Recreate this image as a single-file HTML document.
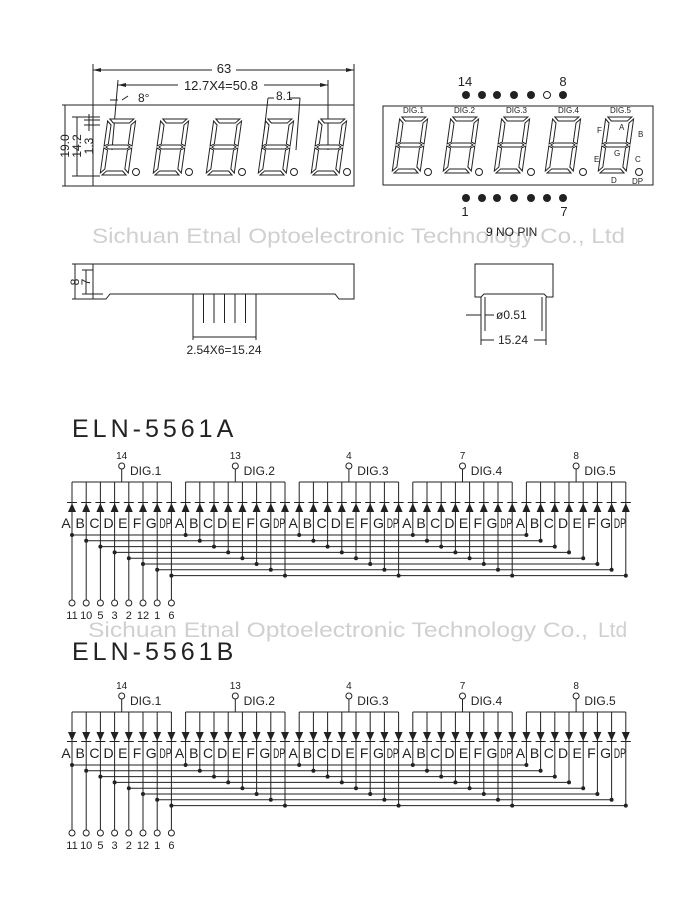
<!DOCTYPE html>
<html><head><meta charset="utf-8"><style>
html,body{margin:0;padding:0;background:#fff}
svg{display:block}
text{font-family:"Liberation Sans",sans-serif;fill:#222}
</style></head><body>
<svg width="700" height="900" viewBox="0 0 700 900" xmlns="http://www.w3.org/2000/svg">
<defs>
<g id="dig" fill="#fff" stroke="#222" stroke-width="1">
<polygon points="2,0 26,0 22,4 6,4"/>
<polygon points="0,2 4,6 4,25 0,27"/>
<polygon points="28,2 28,27 24,25 24,6"/>
<polygon points="2,28 5,26 23,26 26,28 23,30 5,30"/>
<polygon points="0,29 4,31 4,50 0,54"/>
<polygon points="28,29 28,54 24,50 24,31"/>
<polygon points="6,52 22,52 26,56 2,56"/>
</g>
<g id="dU"><polygon points="-4,512 4,512 0,503" fill="#222"/><line x1="-5" y1="502.5" x2="5" y2="502.5" stroke="#222"/></g>
<g id="dD"><polygon points="-4,502 4,502 0,511" fill="#222"/><line x1="-5" y1="511.5" x2="5" y2="511.5" stroke="#222"/></g>
<g id="rowU"><use href="#dU" x="0"/><use href="#dU" x="14.2"/><use href="#dU" x="28.4"/><use href="#dU" x="42.6"/><use href="#dU" x="56.8"/><use href="#dU" x="71"/><use href="#dU" x="85.2"/><use href="#dU" x="99.4"/></g>
<g id="rowD"><use href="#dD" x="0"/><use href="#dD" x="14.2"/><use href="#dD" x="28.4"/><use href="#dD" x="42.6"/><use href="#dD" x="56.8"/><use href="#dD" x="71"/><use href="#dD" x="85.2"/><use href="#dD" x="99.4"/></g>
<g id="dg">
<path d="M0 482H99.4M49.7 469V482M0 482V535M14.2 482V540.8M28.4 482V546.6M42.6 482V552.4M56.8 482V558.2M71 482V564M85.2 482V569.8M99.4 482V575.6" stroke="#222" fill="none"/>
<circle cx="49.7" cy="466" r="3" fill="#fff" stroke="#222"/>
<g fill="#222"><circle cx="0" cy="535" r="2"/><circle cx="14.2" cy="540.8" r="2"/><circle cx="28.4" cy="546.6" r="2"/><circle cx="42.6" cy="552.4" r="2"/><circle cx="56.8" cy="558.2" r="2"/><circle cx="71" cy="564" r="2"/><circle cx="85.2" cy="569.8" r="2"/><circle cx="99.4" cy="575.6" r="2"/></g>
</g>
<g id="dg1">
<path d="M0 482H99.4M49.7 469V482M0 482V600M14.2 482V600M28.4 482V600M42.6 482V600M56.8 482V600M71 482V600M85.2 482V600M99.4 482V600" stroke="#222" fill="none"/>
<circle cx="49.7" cy="466" r="3" fill="#fff" stroke="#222"/>
<g fill="#222"><circle cx="0" cy="535" r="2"/><circle cx="14.2" cy="540.8" r="2"/><circle cx="28.4" cy="546.6" r="2"/><circle cx="42.6" cy="552.4" r="2"/><circle cx="56.8" cy="558.2" r="2"/><circle cx="71" cy="564" r="2"/><circle cx="85.2" cy="569.8" r="2"/><circle cx="99.4" cy="575.6" r="2"/></g>
<g fill="#fff" stroke="#222"><circle cx="0" cy="603" r="3"/><circle cx="14.2" cy="603" r="3"/><circle cx="28.4" cy="603" r="3"/><circle cx="42.6" cy="603" r="3"/><circle cx="56.8" cy="603" r="3"/><circle cx="71" cy="603" r="3"/><circle cx="85.2" cy="603" r="3"/><circle cx="99.4" cy="603" r="3"/></g>
</g>
<path id="buses" d="M72 535H526.4M86.2 540.8H540.6M100.4 546.6H554.8M114.6 552.4H569M128.8 558.2H583.2M143 564H597.4M157.2 569.8H611.6M171.4 575.6H625.8" stroke="#222" fill="none"/>
</defs>

<text x="92" y="243" font-size="21" textLength="533" lengthAdjust="spacingAndGlyphs" style="fill:#d0d0d0">Sichuan Etnal Optoelectronic Technology Co., Ltd</text>
<text x="88" y="637" font-size="21" textLength="500" lengthAdjust="spacingAndGlyphs" style="fill:#d0d0d0">Sichuan Etnal Optoelectronic Technology Co.,</text>
<text x="598" y="637" font-size="21" style="fill:#d0d0d0">Ltd</text>

<g stroke="#222" fill="none" stroke-width="1">
<rect x="93" y="105" width="261" height="81"/>
<path d="M93 64V105M354 64V105M93 70H354M118 80L112 150M328 80V150M118 85H328"/>
<path d="M62 105H93M62 186H93M72 117H100M72 176H100M84 120H100M84 125H100"/>
<path d="M65 105V186M77 117V176M89 114V131"/>
<path d="M110 100H118M128 96L122 100M268 98L262 150M300 98L296 150M268 98H300"/>
</g>
<g fill="#222"><polygon points="93,70 101,68 101,72"/><polygon points="354,70 346,68 346,72"/><polygon points="118,85 126,83 126,87"/><polygon points="328,85 320,83 320,87"/></g>
<rect x="212" y="62" width="24" height="12" fill="#fff"/><text x="224" y="73" font-size="13" text-anchor="middle">63</text>
<rect x="178" y="78" width="86" height="13" fill="#fff"/><text x="221" y="90" font-size="13" text-anchor="middle">12.7X4=50.8</text>
<text x="138" y="102" font-size="12">8°</text>
<rect x="274" y="89" width="16" height="12" fill="#fff"/><text x="276" y="100" font-size="12">8.1</text>
<g font-size="12"><text transform="translate(69,146) rotate(-90)" text-anchor="middle">19.0</text><text transform="translate(81,146) rotate(-90)" text-anchor="middle">14.2</text><text transform="translate(93,146) rotate(-90)" text-anchor="middle">1.3</text></g>
<use href="#dig" transform="translate(100,175) skewX(-8) translate(0,-56)"/>
<use href="#dig" transform="translate(153,175) skewX(-8) translate(0,-56)"/>
<use href="#dig" transform="translate(206,175) skewX(-8) translate(0,-56)"/>
<use href="#dig" transform="translate(258,175) skewX(-8) translate(0,-56)"/>
<use href="#dig" transform="translate(311,175) skewX(-8) translate(0,-56)"/>
<g fill="#fff" stroke="#222"><circle cx="136" cy="172" r="3.5"/><circle cx="189" cy="172" r="3.5"/><circle cx="242" cy="172" r="3.5"/><circle cx="294" cy="172" r="3.5"/><circle cx="347" cy="172" r="3.5"/></g>

<rect x="383" y="106" width="270" height="79" fill="none" stroke="#222"/>
<use href="#dig" transform="translate(392,173) skewX(-8) translate(0,-56)"/>
<use href="#dig" transform="translate(443,173) skewX(-8) translate(0,-56)"/>
<use href="#dig" transform="translate(494,173) skewX(-8) translate(0,-56)"/>
<use href="#dig" transform="translate(545,173) skewX(-8) translate(0,-56)"/>
<use href="#dig" transform="translate(598,173) skewX(-8) translate(0,-56)"/>
<g fill="#fff" stroke="#222"><circle cx="428" cy="172" r="3.5"/><circle cx="479" cy="172" r="3.5"/><circle cx="531" cy="172" r="3.5"/><circle cx="583" cy="172" r="3.5"/><circle cx="639" cy="172" r="3.5"/></g>
<g font-size="8"><text x="403" y="113">DIG.1</text><text x="454" y="113">DIG.2</text><text x="506" y="113">DIG.3</text><text x="558" y="113">DIG.4</text><text x="610" y="113">DIG.5</text>
<text x="597" y="133">F</text><text x="619" y="130">A</text><text x="638" y="137">B</text><text x="614" y="156">G</text><text x="594" y="162">E</text><text x="635" y="162">C</text><text x="611" y="183">D</text><text x="632" y="184">DP</text></g>
<g fill="#222"><circle cx="466" cy="95" r="4"/><circle cx="482" cy="95" r="4"/><circle cx="497" cy="95" r="4"/><circle cx="514" cy="95" r="4"/><circle cx="531" cy="95" r="4"/><circle cx="563" cy="95" r="4"/>
<circle cx="466" cy="198" r="4"/><circle cx="482" cy="198" r="4"/><circle cx="497" cy="198" r="4"/><circle cx="514" cy="198" r="4"/><circle cx="531" cy="198" r="4"/><circle cx="547" cy="198" r="4"/><circle cx="563" cy="198" r="4"/></g>
<circle cx="547" cy="95" r="3.5" fill="#fff" stroke="#222"/>
<g font-size="13"><text x="465" y="86" text-anchor="middle">14</text><text x="563" y="86" text-anchor="middle">8</text><text x="465" y="216" text-anchor="middle">1</text><text x="564" y="216" text-anchor="middle">7</text></g>
<text x="486" y="236" font-size="12">9 NO PIN</text>

<g stroke="#222" fill="none">
<path d="M93 264H354V299H339L335 294H110L106 299H93Z"/>
<path d="M72 264H93M72 299H93M82 270H93M82 294H103M75 264V299M86 270V294"/>
<path d="M193 294V323M203.5 294V323M214 294V323M224.5 294V323M235 294V323M245.5 294V323M256 294V323"/>
<path d="M193 323V340M256 323V340M193 337H256"/>
<path d="M475 264H553V297H547L544 294H484L481 297H475Z"/>
<path d="M481 297V331M485 297V331M542 297V331M546 297V331M481 331V345M546 331V345M481 340H546M466 315H481M485 315H494"/>
</g>
<g font-size="12"><text transform="translate(79,282) rotate(-90)" text-anchor="middle">8</text><text transform="translate(90,282) rotate(-90)" text-anchor="middle">7</text></g>
<text x="224" y="354" font-size="12" text-anchor="middle">2.54X6=15.24</text>
<text x="496" y="319" font-size="12">ø0.51</text>
<rect x="494" y="333" width="40" height="13" fill="#fff"/><text x="513" y="344" font-size="12" text-anchor="middle">15.24</text>

<text x="72" y="437" font-size="25" letter-spacing="4">ELN-5561A</text>
<g>
<use href="#buses"/>
<use href="#dg1" x="72"/>
<use href="#dg" x="185.6"/><use href="#dg" x="299.2"/><use href="#dg" x="412.8"/><use href="#dg" x="526.4"/>
<g font-size="14">
<text x="66 80.2 94.4 108.6 122.8 137 151.2" y="528" text-anchor="middle">ABCDEFG</text>
<text x="179.6 193.8 208 222.2 236.4 250.6 264.8" y="528" text-anchor="middle">ABCDEFG</text>
<text x="293.2 307.4 321.6 335.8 350 364.2 378.4" y="528" text-anchor="middle">ABCDEFG</text>
<text x="406.8 421 435.2 449.4 463.6 477.8 492" y="528" text-anchor="middle">ABCDEFG</text>
<text x="520.4 534.6 548.8 563 577.2 591.4 605.6" y="528" text-anchor="middle">ABCDEFG</text>
<text x="159.5" y="528" textLength="12" lengthAdjust="spacingAndGlyphs">DP</text>
<text x="273.1" y="528" textLength="12" lengthAdjust="spacingAndGlyphs">DP</text>
<text x="386.7" y="528" textLength="12" lengthAdjust="spacingAndGlyphs">DP</text>
<text x="500.3" y="528" textLength="12" lengthAdjust="spacingAndGlyphs">DP</text>
<text x="613.9" y="528" textLength="12" lengthAdjust="spacingAndGlyphs">DP</text>
</g>
<g font-size="12"><text x="130" y="475">DIG.1</text><text x="243.6" y="475">DIG.2</text><text x="357.2" y="475">DIG.3</text><text x="470.8" y="475">DIG.4</text><text x="584.4" y="475">DIG.5</text></g>
<g font-size="10" text-anchor="middle"><text x="121.7" y="459">14</text><text x="235.3" y="459">13</text><text x="348.9" y="459">4</text><text x="462.5" y="459">7</text><text x="576.1" y="459">8</text></g>
<g font-size="11" text-anchor="middle"><text x="72" y="619">11</text><text x="86.2" y="619">10</text><text x="100.4" y="619">5</text><text x="114.6" y="619">3</text><text x="128.8" y="619">2</text><text x="143" y="619">12</text><text x="157.2" y="619">1</text><text x="171.4" y="619">6</text></g>
</g>
<use href="#rowU" x="72"/><use href="#rowU" x="185.6"/><use href="#rowU" x="299.2"/><use href="#rowU" x="412.8"/><use href="#rowU" x="526.4"/>

<text x="72" y="660" font-size="25" letter-spacing="4">ELN-5561B</text>
<g transform="translate(0,230)">
<use href="#buses"/>
<use href="#dg1" x="72"/>
<use href="#dg" x="185.6"/><use href="#dg" x="299.2"/><use href="#dg" x="412.8"/><use href="#dg" x="526.4"/>
<use href="#rowD" x="72"/><use href="#rowD" x="185.6"/><use href="#rowD" x="299.2"/><use href="#rowD" x="412.8"/><use href="#rowD" x="526.4"/>
<g font-size="14">
<text x="66 80.2 94.4 108.6 122.8 137 151.2" y="528" text-anchor="middle">ABCDEFG</text>
<text x="179.6 193.8 208 222.2 236.4 250.6 264.8" y="528" text-anchor="middle">ABCDEFG</text>
<text x="293.2 307.4 321.6 335.8 350 364.2 378.4" y="528" text-anchor="middle">ABCDEFG</text>
<text x="406.8 421 435.2 449.4 463.6 477.8 492" y="528" text-anchor="middle">ABCDEFG</text>
<text x="520.4 534.6 548.8 563 577.2 591.4 605.6" y="528" text-anchor="middle">ABCDEFG</text>
<text x="159.5" y="528" textLength="12" lengthAdjust="spacingAndGlyphs">DP</text>
<text x="273.1" y="528" textLength="12" lengthAdjust="spacingAndGlyphs">DP</text>
<text x="386.7" y="528" textLength="12" lengthAdjust="spacingAndGlyphs">DP</text>
<text x="500.3" y="528" textLength="12" lengthAdjust="spacingAndGlyphs">DP</text>
<text x="613.9" y="528" textLength="12" lengthAdjust="spacingAndGlyphs">DP</text>
</g>
<g font-size="12"><text x="130" y="475">DIG.1</text><text x="243.6" y="475">DIG.2</text><text x="357.2" y="475">DIG.3</text><text x="470.8" y="475">DIG.4</text><text x="584.4" y="475">DIG.5</text></g>
<g font-size="10" text-anchor="middle"><text x="121.7" y="459">14</text><text x="235.3" y="459">13</text><text x="348.9" y="459">4</text><text x="462.5" y="459">7</text><text x="576.1" y="459">8</text></g>
<g font-size="11" text-anchor="middle"><text x="72" y="619">11</text><text x="86.2" y="619">10</text><text x="100.4" y="619">5</text><text x="114.6" y="619">3</text><text x="128.8" y="619">2</text><text x="143" y="619">12</text><text x="157.2" y="619">1</text><text x="171.4" y="619">6</text></g>
</g>
</svg>
</body></html>
